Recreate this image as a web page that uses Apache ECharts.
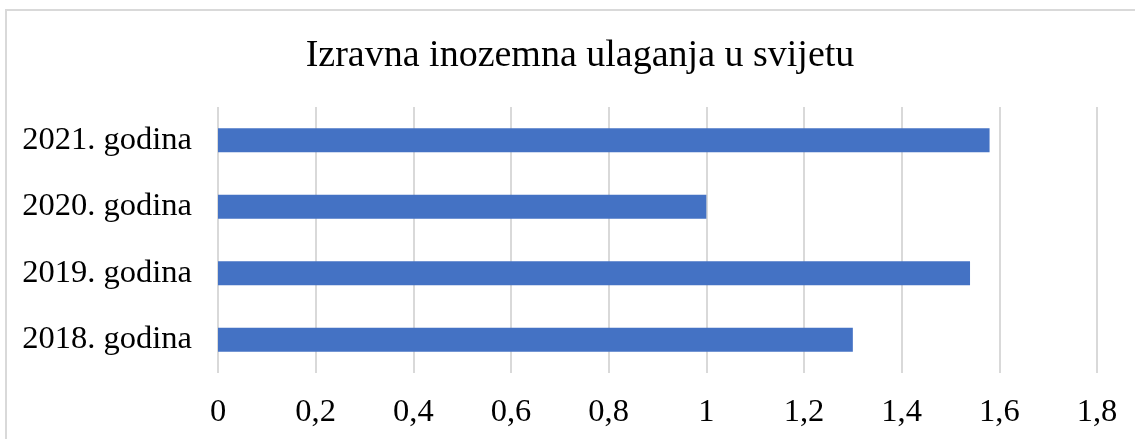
<!DOCTYPE html>
<html>
<head>
<meta charset="utf-8">
<script src="https://cdn.jsdelivr.net/npm/echarts@6/dist/echarts.min.js"></script>
<style>
  html, body { margin: 0; padding: 0; background: #fff; }
  #chart { width: 1135px; height: 439px; }
</style>
</head>
<body>
<div id="chart"></div>
<script>
// podaci
const kategorije = ['2018. godina', '2019. godina', '2020. godina', '2021. godina'];
const vrijednosti = [1.3, 1.54, 1.0, 1.58];
const osMin = 0;
const osMax = 1.8;
const korak = 0.2;

const chart = echarts.init(document.getElementById('chart'));

const option = {
  backgroundColor: '#ffffff',
  animation: false,
  textStyle: { fontFamily: '"Liberation Serif", "Times New Roman", serif' },
  title: {
    text: 'Izravna inozemna ulaganja u svijetu',
    left: 575,
    top: 32,
    textAlign: 'center',
    textStyle: {
      color: '#000000',
      fontSize: 38,
      fontWeight: 'normal',
      fontFamily: '"Liberation Serif", "Times New Roman", serif'
    }
  },
  graphic: [
    {
      type: 'rect',
      shape: { x: 6, y: 10, width: 1200, height: 500 },
      style: { fill: 'none', stroke: '#d9d9d9', lineWidth: 2 },
      silent: true
    }
  ],
  grid: {
    left: 218,
    right: 38,
    top: 107,
    bottom: 66,
    containLabel: false
  },
  xAxis: {
    type: 'value',
    min: osMin,
    max: osMax,
    interval: korak,
    axisLine: { show: false },
    axisTick: { show: false },
    axisLabel: {
      color: '#000000',
      fontSize: 32.5,
      margin: 23,
      fontFamily: '"Liberation Serif", "Times New Roman", serif',
      formatter: v => String(Math.round(v * 10) / 10).replace('.', ',')
    },
    splitLine: { show: true, lineStyle: { color: '#d9d9d9', width: 2 } }
  },
  yAxis: {
    type: 'category',
    data: kategorije,
    axisLine: { show: false },
    axisTick: { show: false },
    axisLabel: {
      color: '#000000',
      fontSize: 32.5,
      margin: 26,
      fontFamily: '"Liberation Serif", "Times New Roman", serif'
    }
  },
  series: [
    {
      type: 'bar',
      data: vrijednosti,
      barWidth: 24,
      itemStyle: { color: '#4472C4' }
    }
  ]
};

chart.setOption(option);
</script>
</body>
</html>
